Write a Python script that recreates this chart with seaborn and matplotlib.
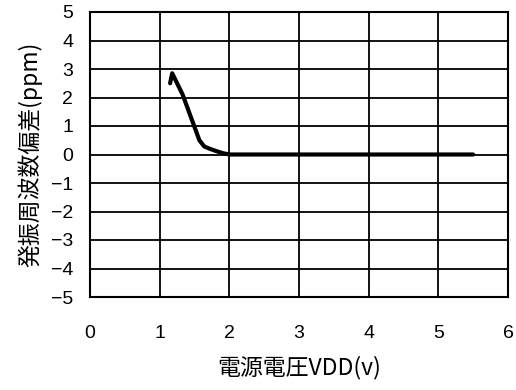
import matplotlib
matplotlib.use("Agg")
import matplotlib.pyplot as plt
import seaborn as sns
import pandas as pd

# Supply voltage (V) vs. oscillation frequency deviation (ppm)
vdd = [1.15, 1.18, 1.25, 1.33, 1.45, 1.57, 1.64, 1.72, 1.8, 1.9, 2.0, 2.5, 3.0, 3.5, 4.0, 4.5, 5.0, 5.5]
deviation = [2.5, 2.85, 2.5, 2.1, 1.3, 0.5, 0.28, 0.2, 0.13, 0.05, 0.0, 0.0, 0.0, 0.0, 0.0, 0.0, 0.0, 0.0]

x_ticks = [0, 1, 2, 3, 4, 5, 6]
y_ticks = [-5, -4, -3, -2, -1, 0, 1, 2, 3, 4, 5]

sns.set_theme(style="white")
plt.rcParams["font.family"] = ["Noto Sans CJK JP", "DejaVu Sans"]

df = pd.DataFrame({"vdd": vdd, "dev": deviation})

fig = plt.figure(figsize=(5.16, 3.9), dpi=100)
ax = fig.add_axes([90 / 516, 1 - 297 / 390, 418 / 516, 285 / 390])

sns.lineplot(data=df, x="vdd", y="dev", ax=ax, color="black", linewidth=3.0,
             sort=False, solid_joinstyle="round", solid_capstyle="round")

ax.set_xlim(0, 6)
ax.set_ylim(-5, 5)
ax.set_xticks(x_ticks)
ax.set_yticks(y_ticks)
ax.set_xticklabels([str(v) for v in x_ticks], fontfamily="Liberation Sans", fontsize=14)
ax.set_yticklabels([str(v).replace("-", "\u2212") for v in y_ticks],
                   fontfamily="Liberation Sans", fontsize=14)
ax.grid(True, color="black", linewidth=1.3)
ax.set_axisbelow(True)
for s in ax.spines.values():
    s.set_color("black")
    s.set_linewidth(1.5)
ax.tick_params(axis="x", length=0, pad=20, colors="black")
ax.tick_params(axis="y", length=0, pad=12, colors="black")

ax.set_xlabel("電源電圧VDD(v)", fontsize=16.5, color="black", labelpad=10)
ax.set_ylabel("発振周波数偏差(ppm)", fontsize=16.5, color="black", labelpad=6)

fig.savefig("out.png", dpi=100)
